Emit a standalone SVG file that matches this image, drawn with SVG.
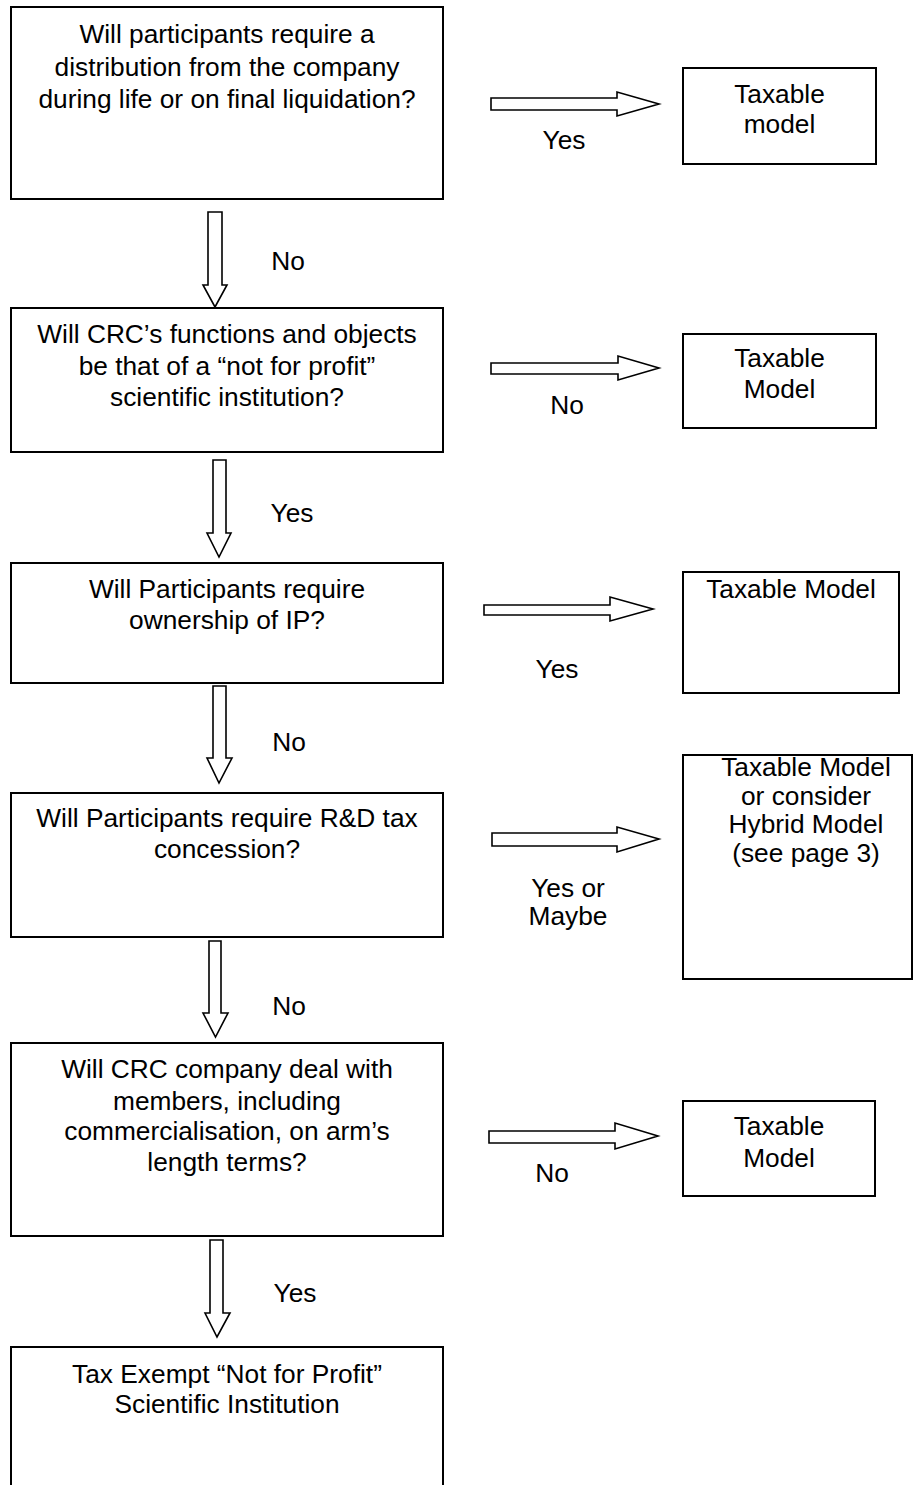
<svg xmlns="http://www.w3.org/2000/svg" width="913" height="1485" viewBox="0 0 913 1485">
<style>
text{font-family:"Liberation Sans",Arial,sans-serif;font-size:26.3px;fill:#000;text-anchor:middle}
.box{fill:#fff;stroke:#000;stroke-width:2}
.arr{fill:#fff;stroke:#000;stroke-width:1.6;stroke-linejoin:miter}
</style>
<rect width="913" height="1485" fill="#fff"/>
<g id="q1"><rect class="box" x="11" y="7" width="432" height="192"/>
<text x="227" y="43">Will participants require a</text><text x="227" y="76">distribution from the company</text><text x="227" y="108">during life or on final liquidation?</text></g>
<g id="q2"><rect class="box" x="11" y="308" width="432" height="144"/>
<text x="227" y="343">Will CRC’s functions and objects</text><text x="227" y="375">be that of a “not for profit”</text><text x="227" y="406">scientific institution?</text></g>
<g id="q3"><rect class="box" x="11" y="563" width="432" height="120"/>
<text x="227" y="598">Will Participants require</text><text x="227" y="629">ownership of IP?</text></g>
<g id="q4"><rect class="box" x="11" y="793" width="432" height="144"/>
<text x="227" y="827">Will Participants require R&amp;D tax</text><text x="227" y="858">concession?</text></g>
<g id="q5"><rect class="box" x="11" y="1043" width="432" height="193"/>
<text x="227" y="1078">Will CRC company deal with</text><text x="227" y="1110">members, including</text><text x="227" y="1140">commercialisation, on arm’s</text><text x="227" y="1171">length terms?</text></g>
<g id="result"><rect class="box" x="11" y="1347" width="432" height="160"/>
<text x="227" y="1383">Tax Exempt “Not for Profit”</text><text x="227" y="1413">Scientific Institution</text></g>
<g id="t1"><rect class="box" x="683" y="68" width="193" height="96"/>
<text x="779.5" y="103">Taxable</text><text x="779.5" y="133">model</text></g>
<g id="t2"><rect class="box" x="683" y="334" width="193" height="94"/>
<text x="779.5" y="367">Taxable</text><text x="779.5" y="398">Model</text></g>
<g id="t3"><rect class="box" x="683" y="572" width="216" height="121"/>
<text x="791" y="598">Taxable Model</text></g>
<g id="t4"><rect class="box" x="683" y="755" width="229" height="224"/>
<text x="806" y="776">Taxable Model</text><text x="806" y="805">or consider</text><text x="806" y="833">Hybrid Model</text><text x="806" y="862">(see page 3)</text></g>
<g id="t5"><rect class="box" x="683" y="1101" width="192" height="95"/>
<text x="779" y="1135">Taxable</text><text x="779" y="1167">Model</text></g>
<g id="connectors">
<polygon class="arr" points="491,98 617,98 617,92 659,104 617,116 617,110 491,110"/>
<polygon class="arr" points="491,363 618,363 618,356 659,368 618,380 618,374 491,374"/>
<polygon class="arr" points="484,605 610,605 610,597 653,609 610,621 610,615 484,615"/>
<polygon class="arr" points="492,833 617,833 617,827 659,839 617,852 617,846 492,846"/>
<polygon class="arr" points="489,1131 615,1131 615,1123 658,1136 615,1149 615,1143 489,1143"/>
<polygon class="arr" points="208,212 222,212 222,285 227,285 215,307 203,285 208,285"/>
<polygon class="arr" points="213,460 226,460 226,533 231,533 219,557 207,533 213,533"/>
<polygon class="arr" points="213,686 226,686 226,758 232,758 219,783 207,758 213,758"/>
<polygon class="arr" points="209,941 221,941 221,1013 228,1013 215.5,1037 203,1013 209,1013"/>
<polygon class="arr" points="210,1240 223,1240 223,1313 230,1313 217,1337 205,1313 210,1313"/>
<text x="564" y="149">Yes</text>
<text x="567" y="414">No</text>
<text x="557" y="678">Yes</text>
<text x="568" y="897">Yes or</text><text x="568" y="925">Maybe</text>
<text x="552" y="1182">No</text>
<text x="288" y="270">No</text>
<text x="292" y="522">Yes</text>
<text x="289" y="751">No</text>
<text x="289" y="1015">No</text>
<text x="295" y="1302">Yes</text>
</g>
</svg>
